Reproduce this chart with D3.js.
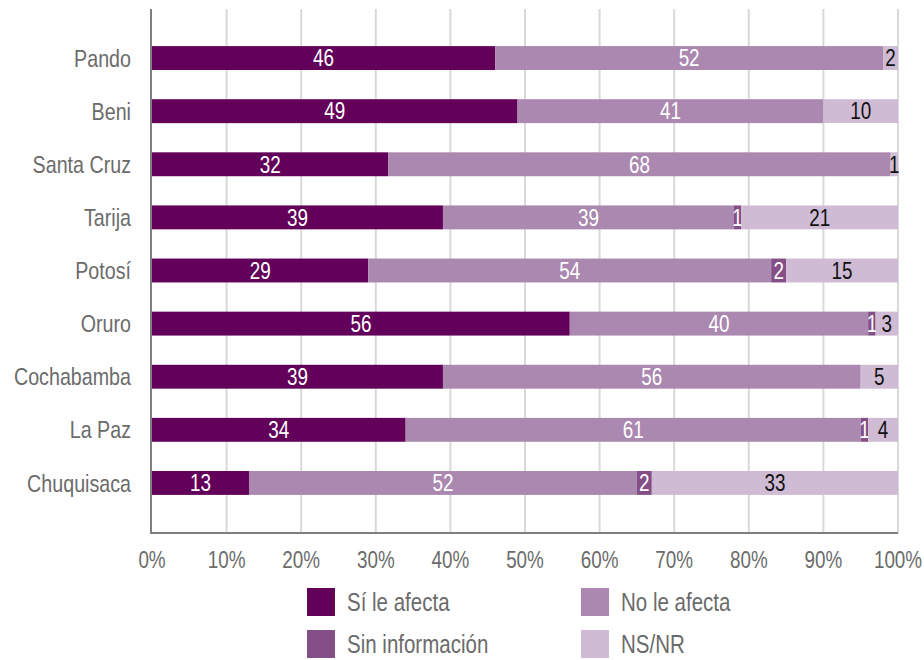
<!DOCTYPE html>
<html lang="es">
<head>
<meta charset="utf-8">
<title>Afectación por departamento</title>
<script src="https://d3js.org/d3.v7.min.js"></script>
<style>
  body { margin: 0; background: #fff; }
  svg text { font-family: "Liberation Sans", Arial, sans-serif; }
  .cat { font-size: 24px; fill: #6b6b6b; }
  .tick-label { font-size: 23px; fill: #6b6b6b; }
  .val { font-size: 23px; }
  .legend text { font-size: 25px; fill: #6b6b6b; }
</style>
</head>
<body>
<svg id="chart" width="924" height="660"></svg>
<script>
// categories, top to bottom
const departments = ["Pando", "Beni", "Santa Cruz", "Tarija", "Potosí", "Oruro", "Cochabamba", "La Paz", "Chuquisaca"];
const seriesNames = ["Sí le afecta", "No le afecta", "Sin información", "NS/NR"];
const seriesColors = ["#62005a", "#ab88b0", "#844f86", "#cfbbd4"];

// values per series, in the order of departments
const siAfecta   = [46, 49, 32, 39, 29, 56, 39, 34, 13];
const noAfecta   = [52, 41, 68, 39, 54, 40, 56, 61, 52];
const sinInfo    = [0, 0, 0, 1, 2, 1, 0, 1, 2];
const nsnr       = [2, 10, 1, 21, 15, 3, 5, 4, 33];

const tickValues = [0, 0.1, 0.2, 0.3, 0.4, 0.5, 0.6, 0.7, 0.8, 0.9, 1];

const rows = departments.map((d, i) => ({
  dept: d,
  "Sí le afecta": siAfecta[i],
  "No le afecta": noAfecta[i],
  "Sin información": sinInfo[i],
  "NS/NR": nsnr[i]
}));

const narrow = 0.82; // condensed look
const svg = d3.select("#chart");

const x = d3.scaleLinear().domain([0, 1]).range([152, 898]);
const y = d3.scaleBand().domain(departments).range([31.5, 509.5])
  .paddingInner(0.55).paddingOuter(0.275);
const color = d3.scaleOrdinal().domain(seriesNames).range(seriesColors);

const stack = d3.stack().keys(seriesNames).offset(d3.stackOffsetExpand);
const layers = stack(rows);

const axisTop = 9, axisBottom = 533;

// gridlines
svg.append("g")
  .selectAll("line")
  .data(tickValues.slice(1))
  .join("line")
  .attr("x1", d => x(d)).attr("x2", d => x(d))
  .attr("y1", axisTop).attr("y2", axisBottom)
  .attr("stroke", "#d9d9d9").attr("stroke-width", 2);

// bars
const layerG = svg.append("g")
  .selectAll("g")
  .data(layers)
  .join("g")
  .attr("fill", d => color(d.key));

layerG.selectAll("rect")
  .data(d => d.map(v => ({ key: d.key, v })))
  .join("rect")
  .attr("x", d => x(d.v[0]))
  .attr("width", d => x(d.v[1]) - x(d.v[0]))
  .attr("y", d => y(d.v.data.dept))
  .attr("height", y.bandwidth());

// value labels
layerG.selectAll("text")
  .data(d => d.map(v => ({ key: d.key, v })).filter(o => o.v.data[o.key] > 0))
  .join("text")
  .attr("class", "val")
  .attr("transform", d => `translate(${(x(d.v[0]) + x(d.v[1])) / 2},${y(d.v.data.dept) + y.bandwidth() / 2}) scale(${narrow},1)`)
  .attr("dy", "0.36em")
  .attr("text-anchor", "middle")
  .attr("fill", d => d.key === "NS/NR" ? "#111" : "#fff")
  .text(d => d.v.data[d.key]);

// axes lines
svg.append("line")
  .attr("x1", 151).attr("x2", 151).attr("y1", axisTop).attr("y2", axisBottom + 1)
  .attr("stroke", "#7f7f7f").attr("stroke-width", 2);
svg.append("line")
  .attr("x1", 150).attr("x2", x(1)).attr("y1", axisBottom).attr("y2", axisBottom)
  .attr("stroke", "#7f7f7f").attr("stroke-width", 2);

// x tick labels
svg.append("g")
  .selectAll("text")
  .data(tickValues)
  .join("text")
  .attr("class", "tick-label")
  .attr("transform", d => `translate(${x(d)},568) scale(${narrow},1)`)
  .attr("text-anchor", "middle")
  .text(d => d3.format(".0%")(d));

// category labels
svg.append("g")
  .selectAll("text")
  .data(departments)
  .join("text")
  .attr("class", "cat")
  .attr("transform", d => `translate(131,${y(d) + y.bandwidth() / 2}) scale(${narrow},1)`)
  .attr("dy", "0.36em")
  .attr("text-anchor", "end")
  .text(d => d);

// legend
const legendPos = [[307, 588], [581, 588], [307, 630], [581, 630]];
const legend = svg.append("g").attr("class", "legend")
  .selectAll("g")
  .data(seriesNames)
  .join("g")
  .attr("transform", (d, i) => `translate(${legendPos[i][0]},${legendPos[i][1]})`);
legend.append("rect")
  .attr("width", 28).attr("height", 28)
  .attr("fill", d => color(d));
legend.append("text")
  .attr("transform", `translate(40,14) scale(${narrow},1)`)
  .attr("dy", "0.36em")
  .text(d => d);
</script>
</body>
</html>
